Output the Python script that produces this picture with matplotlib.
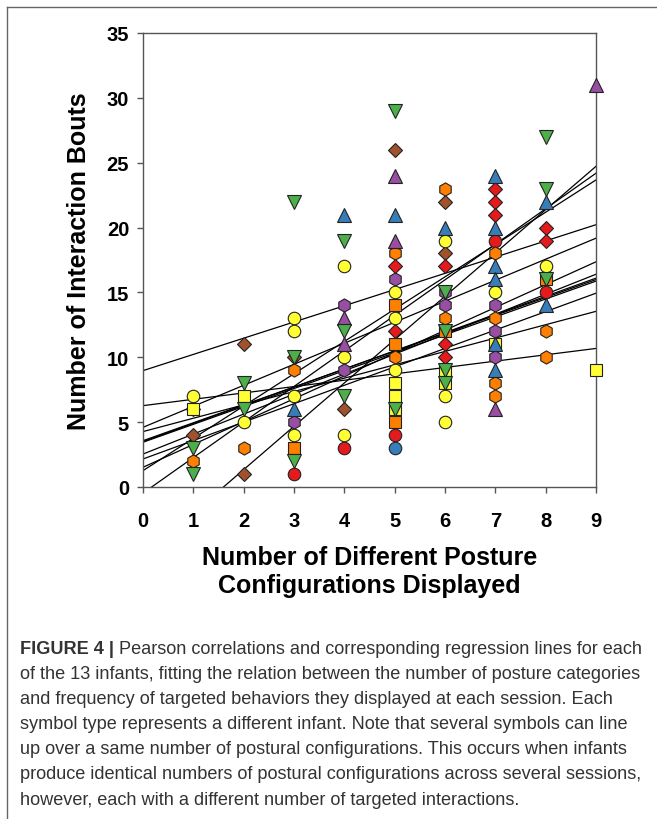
import numpy as np
import matplotlib
matplotlib.use("Agg")
import matplotlib.pyplot as plt
from matplotlib.lines import Line2D

plt.rcParams['font.family'] = ['Liberation Sans', 'DejaVu Sans']

# sessions per infant: x = posture configurations, y = interaction bouts
brown_dia_x = [1, 1, 2, 2, 3, 4, 5, 6, 6]
brown_dia_y = [6, 4, 11, 1, 10, 6, 26, 22, 18]
orange_sq_x = [3, 5, 5, 5, 6, 8]
orange_sq_y = [3, 14, 11, 5, 12, 16]
yellow_sq_x = [1, 2, 5, 5, 5, 6, 6, 7, 9]
yellow_sq_y = [6, 7, 8, 7, 6, 9, 8, 11, 9]
purple_hex_x = [3, 4, 4, 5, 6, 6, 7, 7, 7]
purple_hex_y = [5, 14, 9, 16, 15, 14, 14, 12, 10]
red_circ_x = [3, 4, 5, 7, 8]
red_circ_y = [1, 3, 4, 19, 15]
blue_circ_x = [5]
blue_circ_y = [3]
orange_hex_x = [1, 2, 3, 5, 5, 6, 6, 7, 7, 7, 7, 8, 8]
orange_hex_y = [2, 3, 9, 18, 10, 23, 13, 18, 13, 8, 7, 12, 10]
red_dia_x = [5, 5, 6, 6, 6, 7, 7, 7, 8, 8]
red_dia_y = [17, 12, 17, 11, 10, 23, 22, 21, 20, 19]
yellow_circ_x = [1, 2, 3, 3, 3, 3, 4, 4, 4, 5, 5, 5, 6, 6, 6, 7, 8]
yellow_circ_y = [7, 5, 13, 12, 7, 4, 17, 10, 4, 15, 13, 9, 19, 7, 5, 15, 17]
purple_tri_x = [4, 4, 5, 5, 7, 9]
purple_tri_y = [13, 11, 24, 19, 6, 31]
blue_tri_x = [3, 4, 5, 6, 7, 7, 7, 7, 7, 7, 8, 8]
blue_tri_y = [6, 21, 21, 20, 24, 20, 17, 16, 11, 9, 22, 14]
green_tri_x = [1, 1, 2, 2, 3, 3, 3, 4, 4, 4, 5, 5, 6, 6, 6, 6, 8, 8, 8]
green_tri_y = [3, 1, 8, 6, 22, 10, 2, 19, 12, 7, 29, 6, 15, 12, 9, 8, 27, 23, 16]

# regression lines (intercept, slope)
line_intercepts = [8.97, 6.27, 4.6, 4.27, 3.57, 3.45, 3.5, 2.54, 2.16, 1.52, 1.26, -0.47, -5.34]
line_slopes = [1.25, 0.49, 1.62, 1.03, 1.38, 1.38, 1.4, 1.54, 1.42, 1.76, 2.49, 2.74, 3.34]

caption_lines = [
    "of the 13 infants, fitting the relation between the number of posture categories",
    "and frequency of targeted behaviors they displayed at each session. Each",
    "symbol type represents a different infant. Note that several symbols can line",
    "up over a same number of postural configurations. This occurs when infants",
    "produce identical numbers of postural configurations across several sessions,",
    "however, each with a different number of targeted interactions.",
]

series = [
    (brown_dia_x, brown_dia_y, 'D', '#a0522d', 7.5),
    (orange_sq_x, orange_sq_y, 's', '#ff7f00', 8),
    (yellow_sq_x, yellow_sq_y, 's', '#ffff33', 8),
    (purple_hex_x, purple_hex_y, 'h', '#984ea3', 9.5),
    (red_circ_x, red_circ_y, 'o', '#e41a1c', 9),
    (blue_circ_x, blue_circ_y, 'o', '#377eb8', 9),
    (orange_hex_x, orange_hex_y, 'h', '#ff7f00', 9.5),
    (red_dia_x, red_dia_y, 'D', '#e41a1c', 7.5),
    (yellow_circ_x, yellow_circ_y, 'o', '#ffff33', 9),
    (purple_tri_x, purple_tri_y, '^', '#984ea3', 9.5),
    (blue_tri_x, blue_tri_y, '^', '#377eb8', 9.5),
    (green_tri_x, green_tri_y, 'v', '#4daf4a', 9.5),
]

fig = plt.figure(figsize=(6.57, 8.2), dpi=100)
ax = fig.add_axes([0.2177, 0.4049, 0.6895, 0.5537])

xs = np.linspace(0, 9, 200)
for b, m in zip(line_intercepts, line_slopes):
    ax.plot(xs, b + m * xs, color='black', lw=0.9, zorder=2)

for x, y, mk, col, ms in series:
    ax.plot(x, y, linestyle='none', marker=mk, markersize=ms, markerfacecolor=col,
            markeredgecolor='#222222', markeredgewidth=0.8, zorder=3, clip_on=False)

ax.set_xlim(0, 9)
ax.set_ylim(0, 35)
ax.set_xticks(range(0, 10))
ax.set_yticks(range(0, 36, 5))
for s in ax.spines.values():
    s.set_color('#555555')
    s.set_linewidth(1.0)
ax.tick_params(direction='out', length=4, width=1, color='#555555',
               labelsize=14.5, top=False, right=False)
ax.tick_params(axis='x', pad=13)
ax.tick_params(axis='y', pad=6)
for lab in ax.get_xticklabels() + ax.get_yticklabels():
    lab.set_fontweight('bold')

ax.set_xlabel("Number of Different Posture\nConfigurations Displayed",
              fontsize=18, fontweight='bold', labelpad=11, linespacing=1.2)
ax.set_ylabel("Number of Interaction Bouts", fontsize=18, fontweight='bold', labelpad=11)

# outer frame (left and top edges)
fig.add_artist(Line2D([7 / 657, 7 / 657], [0, 1 - 8 / 820], color='#666666', lw=1))
fig.add_artist(Line2D([7 / 657, 1], [1 - 8 / 820, 1 - 8 / 820], color='#666666', lw=1))

cap_size = 13.1
cap_col = '#333333'
t1 = fig.text(20 / 657, 1 - 649 / 820, "FIGURE 4 |", fontsize=cap_size, fontweight='bold',
              color=cap_col, va='center')
ax.annotate(" Pearson correlations and corresponding regression lines for each",
            xy=(1, 0.5), xycoords=t1, va='center', ha='left',
            fontsize=cap_size, color=cap_col, annotation_clip=False)
for i, line in enumerate(caption_lines):
    fig.text(20 / 657, 1 - (649 + 25.2 * (i + 1)) / 820, line, fontsize=cap_size,
             color=cap_col, va='center')

fig.savefig("out.png", dpi=100)
